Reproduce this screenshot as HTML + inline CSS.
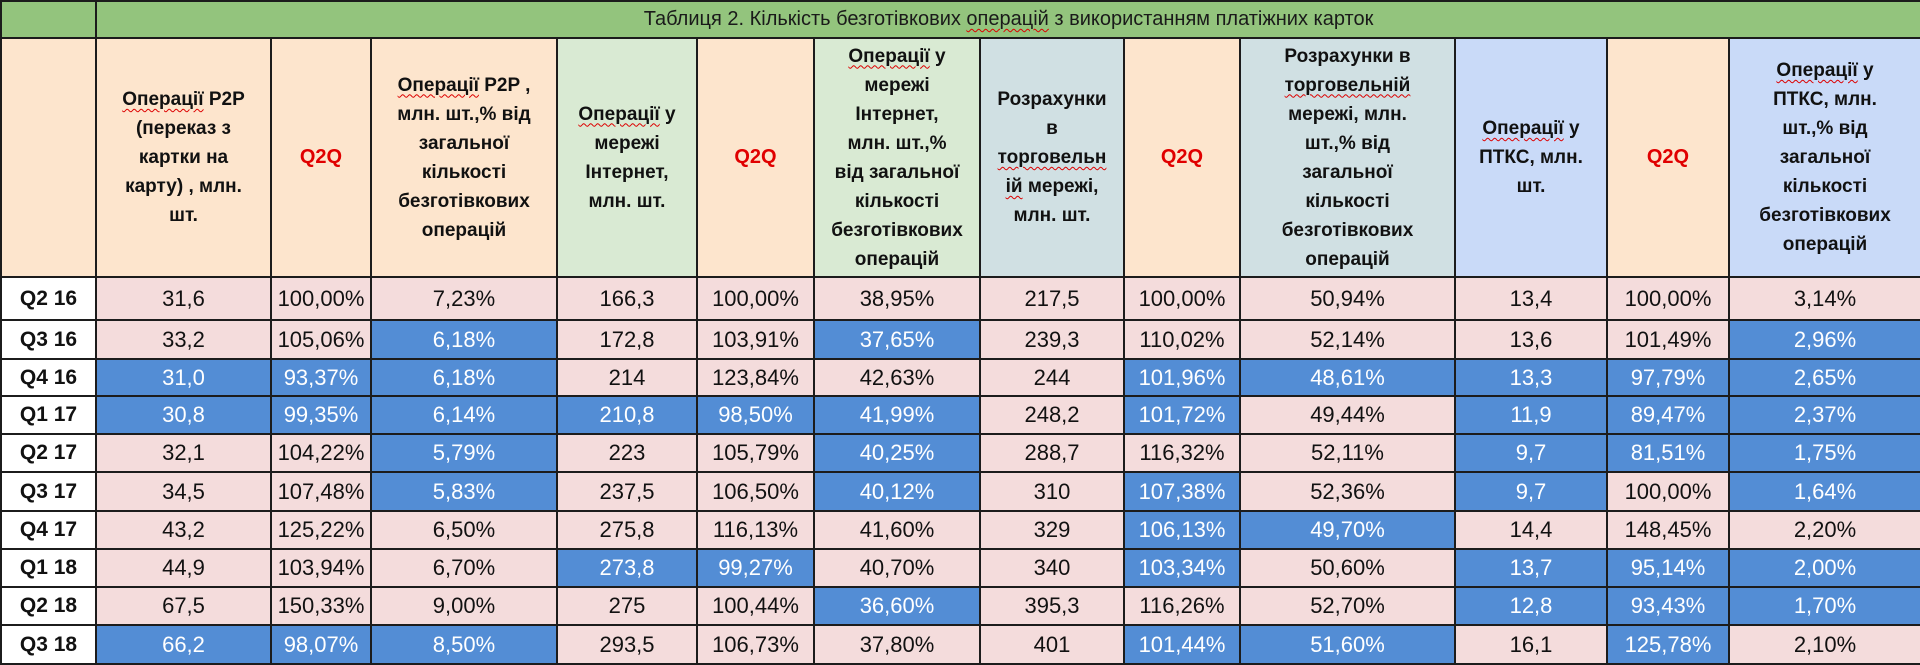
<!DOCTYPE html>
<html><head><meta charset="utf-8">
<style>
html,body{margin:0;padding:0;background:#fff;width:1920px;height:665px;overflow:hidden}
table{border-collapse:collapse;table-layout:fixed;width:1920px;font-family:"Liberation Sans",Arial,sans-serif;}
td{border:2px solid #1c1c1c;padding:0;text-align:center;vertical-align:middle;overflow:hidden;white-space:nowrap}
.t td{background:#93c47d;font-size:20px;color:#1a1a1a;height:35px}
.h td{font-weight:bold;font-size:19px;line-height:29px;color:#111;height:237px}
.p{background:#fde5cd}.g{background:#d9ead3}.s{background:#d0e0e3}.l{background:#c9daf8}
.h td.q{color:#e00000;font-size:20px}
.d td{background:#f4dcdc;font-size:22px;color:#111}
.d td.b{background:#538dd5;color:#fff}
.d td.r{background:#fff;font-weight:bold;font-size:21px}
u{text-decoration:underline wavy #d00;text-decoration-thickness:1px;text-underline-offset:3px}
</style></head><body>
<table>
<colgroup><col style="width:95px"><col style="width:175px"><col style="width:100px"><col style="width:186px"><col style="width:140px"><col style="width:117px"><col style="width:166px"><col style="width:144px"><col style="width:116px"><col style="width:215px"><col style="width:152px"><col style="width:122px"><col style="width:192px"></colgroup>
<tr class="t"><td></td><td colspan="12">Таблиця 2. Кількість безготівкових <u>операцій</u> з використанням платіжних карток</td></tr>
<tr class="h">
<td class="p"></td>
<td class="p"><u>Операції</u> P2P<br>(переказ з<br>картки на<br>карту) , млн.<br>шт.</td>
<td class="p q">Q2Q</td>
<td class="p"><u>Операції</u> P2P ,<br>млн. шт.,% від<br>загальної<br>кількості<br>безготівкових<br>операцій</td>
<td class="g"><u>Операції</u> у<br>мережі<br>Інтернет,<br>млн. шт.</td>
<td class="p q">Q2Q</td>
<td class="g"><u>Операції</u> у<br>мережі<br>Інтернет,<br>млн. шт.,%<br>від загальної<br>кількості<br>безготівкових<br>операцій</td>
<td class="s">Розрахунки<br>в<br><u>торговельн</u><br><u>ій</u> мережі,<br>млн. шт.</td>
<td class="p q">Q2Q</td>
<td class="s">Розрахунки в<br><u>торговельній</u><br>мережі, млн.<br>шт.,% від<br>загальної<br>кількості<br>безготівкових<br>операцій</td>
<td class="l"><u>Операції</u> у<br>ПТКС, млн.<br>шт.</td>
<td class="p q">Q2Q</td>
<td class="l"><u>Операції</u> у<br>ПТКС, млн.<br>шт.,% від<br>загальної<br>кількості<br>безготівкових<br>операцій</td>
</tr>
<tr class="d" style="height:43px"><td class="r">Q2 16</td><td>31,6</td><td>100,00%</td><td>7,23%</td><td>166,3</td><td>100,00%</td><td>38,95%</td><td>217,5</td><td>100,00%</td><td>50,94%</td><td>13,4</td><td>100,00%</td><td>3,14%</td></tr>
<tr class="d" style="height:39px"><td class="r">Q3 16</td><td>33,2</td><td>105,06%</td><td class="b">6,18%</td><td>172,8</td><td>103,91%</td><td class="b">37,65%</td><td>239,3</td><td>110,02%</td><td>52,14%</td><td>13,6</td><td>101,49%</td><td class="b">2,96%</td></tr>
<tr class="d" style="height:37px"><td class="r">Q4 16</td><td class="b">31,0</td><td class="b">93,37%</td><td class="b">6,18%</td><td>214</td><td>123,84%</td><td>42,63%</td><td>244</td><td class="b">101,96%</td><td class="b">48,61%</td><td class="b">13,3</td><td class="b">97,79%</td><td class="b">2,65%</td></tr>
<tr class="d" style="height:38px"><td class="r">Q1 17</td><td class="b">30,8</td><td class="b">99,35%</td><td class="b">6,14%</td><td class="b">210,8</td><td class="b">98,50%</td><td class="b">41,99%</td><td>248,2</td><td class="b">101,72%</td><td>49,44%</td><td class="b">11,9</td><td class="b">89,47%</td><td class="b">2,37%</td></tr>
<tr class="d" style="height:38px"><td class="r">Q2 17</td><td>32,1</td><td>104,22%</td><td class="b">5,79%</td><td>223</td><td>105,79%</td><td class="b">40,25%</td><td>288,7</td><td>116,32%</td><td>52,11%</td><td class="b">9,7</td><td class="b">81,51%</td><td class="b">1,75%</td></tr>
<tr class="d" style="height:39px"><td class="r">Q3 17</td><td>34,5</td><td>107,48%</td><td class="b">5,83%</td><td>237,5</td><td>106,50%</td><td class="b">40,12%</td><td>310</td><td class="b">107,38%</td><td>52,36%</td><td class="b">9,7</td><td>100,00%</td><td class="b">1,64%</td></tr>
<tr class="d" style="height:38px"><td class="r">Q4 17</td><td>43,2</td><td>125,22%</td><td>6,50%</td><td>275,8</td><td>116,13%</td><td>41,60%</td><td>329</td><td class="b">106,13%</td><td class="b">49,70%</td><td>14,4</td><td>148,45%</td><td>2,20%</td></tr>
<tr class="d" style="height:38px"><td class="r">Q1 18</td><td>44,9</td><td>103,94%</td><td>6,70%</td><td class="b">273,8</td><td class="b">99,27%</td><td>40,70%</td><td>340</td><td class="b">103,34%</td><td>50,60%</td><td class="b">13,7</td><td class="b">95,14%</td><td class="b">2,00%</td></tr>
<tr class="d" style="height:38px"><td class="r">Q2 18</td><td>67,5</td><td>150,33%</td><td>9,00%</td><td>275</td><td>100,44%</td><td class="b">36,60%</td><td>395,3</td><td>116,26%</td><td>52,70%</td><td class="b">12,8</td><td class="b">93,43%</td><td class="b">1,70%</td></tr>
<tr class="d" style="height:39px"><td class="r">Q3 18</td><td class="b">66,2</td><td class="b">98,07%</td><td class="b">8,50%</td><td>293,5</td><td>106,73%</td><td>37,80%</td><td>401</td><td class="b">101,44%</td><td class="b">51,60%</td><td>16,1</td><td class="b">125,78%</td><td>2,10%</td></tr>
</table>
</body></html>
